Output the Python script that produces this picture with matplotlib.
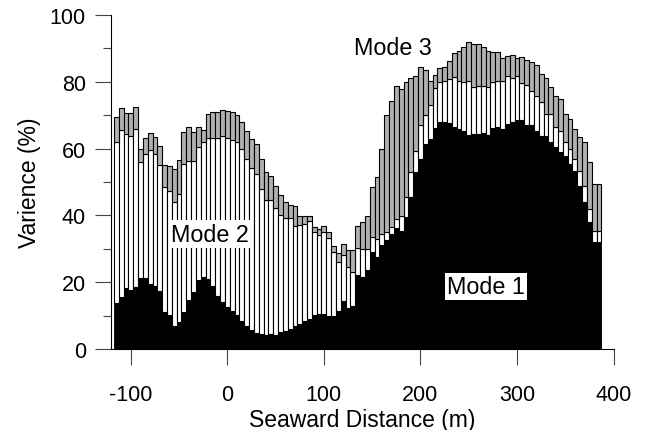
import matplotlib
matplotlib.use("Agg")
import matplotlib.pyplot as plt
import numpy as np

plt.rcParams['font.family'] = ['Liberation Sans', 'DejaVu Sans']
plt.rcParams['axes.unicode_minus'] = False

# Seaward distance of each bar (m)
distance = list(range(-115, 390, 5))

# Variance explained by mode 1 (%)
mode1 = [13.8, 15.5, 18.2, 17.7, 18.5, 21.1, 21.2, 19.5, 18.8, 17.5,
         11.2, 10.2, 6.8, 8.0, 11.2, 14.8, 17.0, 20.6, 21.5, 20.8,
         19.0, 16.0, 14.0, 12.5, 11.5, 10.2, 8.5, 6.8, 5.8, 4.8,
         4.5, 4.3, 4.5, 4.3, 5.0, 5.3, 6.0, 7.0, 7.5, 8.5,
         9.0, 10.2, 10.5, 10.5, 9.8, 10.0, 11.5, 14.5, 12.3, 13.0,
         22.0, 21.5, 23.5, 29.0, 27.5, 31.0, 32.7, 34.5, 36.1, 35.4,
         39.4, 45.4, 52.9, 56.9, 61.4, 62.9, 66.1, 68.1, 68.1, 67.7,
         66.4, 65.9, 65.4, 64.1, 64.4, 64.4, 64.7, 64.1, 66.1, 66.4,
         65.9, 67.4, 67.9, 68.4, 68.4, 67.1, 67.0, 65.4, 63.9, 63.7,
         61.9, 60.4, 58.9, 57.9, 55.4, 53.4, 48.9, 43.9, 37.9, 31.9,
         31.9]

# Cumulative variance of modes 1 + 2 (%)
mode12 = [61.9, 65.5, 64.5, 63.7, 65.9, 55.9, 58.4, 59.7, 58.4, 55.1,
          48.4, 47.4, 44.1, 46.4, 55.4, 56.4, 56.4, 60.5, 62.0, 63.1,
          63.2, 63.1, 63.7, 63.1, 62.7, 62.1, 60.0, 56.9, 54.1, 52.4,
          48.0, 44.7, 44.7, 42.1, 40.1, 39.1, 39.1, 36.9, 37.1, 37.4,
          38.4, 35.1, 34.1, 35.1, 33.1, 29.0, 26.1, 28.1, 24.4, 23.1,
          30.1, 29.9, 29.9, 33.4, 32.9, 34.4, 35.1, 36.4, 38.9, 39.7,
          45.4, 52.9, 59.4, 67.1, 70.1, 73.0, 78.0, 79.8, 80.3, 80.8,
          81.3, 80.3, 80.0, 80.3, 78.3, 78.6, 78.8, 78.3, 79.8, 80.3,
          80.3, 81.8, 81.0, 81.8, 79.6, 79.0, 77.3, 75.8, 73.9, 70.3,
          70.3, 66.4, 65.4, 61.9, 59.9, 56.9, 53.4, 48.9, 41.9, 35.4,
          35.4]

# Cumulative variance of modes 1 + 2 + 3 (%)
total = [69.5, 72.0, 70.6, 70.6, 72.4, 59.9, 63.1, 64.7, 63.4, 60.7,
         55.1, 54.9, 53.9, 56.7, 65.1, 66.4, 64.9, 66.4, 65.6, 70.3,
         71.0, 70.9, 71.4, 71.2, 70.9, 70.1, 68.1, 65.4, 63.0, 61.4,
         56.8, 53.1, 51.8, 48.9, 46.0, 43.9, 43.2, 42.9, 39.9, 39.8,
         39.9, 36.6, 35.8, 36.7, 34.9, 30.9, 28.7, 31.4, 29.7, 29.7,
         36.9, 38.1, 39.9, 48.4, 51.4, 59.9, 69.9, 74.2, 78.8, 77.7,
         79.8, 81.0, 81.6, 84.3, 83.6, 80.3, 82.0, 84.0, 84.3, 86.1,
         88.6, 89.3, 90.3, 91.8, 91.3, 91.3, 90.5, 89.3, 89.0, 88.8,
         87.0, 87.8, 88.0, 87.0, 87.3, 86.6, 86.0, 85.0, 82.3, 81.0,
         78.3, 75.8, 74.8, 70.3, 68.7, 65.9, 63.4, 61.9, 55.9, 49.4,
         49.4]

x = np.array(distance)
m1 = np.array(mode1)
m12 = np.array(mode12)
tot = np.array(total)

fig = plt.figure(figsize=(6.52, 4.31), dpi=100)
ax = fig.add_axes([0.171, 0.188, 0.770, 0.775])

# stacked bars: mode 1 (black), mode 2 (white), mode 3 (grey)
w = 5
ax.bar(x, m1, width=w, color='black', edgecolor='black', linewidth=0.6)
ax.bar(x, m12 - m1, bottom=m1, width=w, color='white', edgecolor='black', linewidth=0.8)
ax.bar(x, tot - m12, bottom=m12, width=w, color='#b0b0b0', edgecolor='black', linewidth=0.8)

ax.set_xlim(-120, 400)
ax.set_ylim(0, 100)
ax.set_xticks([-100, 0, 100, 200, 300, 400])
ax.set_yticks([0, 20, 40, 60, 80, 100])
ax.set_yticks(range(10, 100, 20), minor=True)
ax.tick_params(axis='both', which='major', length=11.5, width=0.8, labelsize=15.5, color='#444444')
ax.tick_params(axis='x', which='major', pad=13.5)
ax.tick_params(axis='y', which='major', pad=7)
ax.tick_params(axis='y', which='minor', length=6, width=0.8, color='#444444')
for s in ['top', 'right']:
    ax.spines[s].set_visible(False)
ax.spines['left'].set_linewidth(0.8)
ax.spines['bottom'].set_linewidth(0.8)

ax.set_xlabel("Seaward Distance (m)", fontsize=16.5, labelpad=2.5)
ax.set_ylabel("Varience (%)", fontsize=16.5, labelpad=6)

box = dict(facecolor='white', edgecolor='none', pad=1.5)
ax.text(-18.5, 34.4, "Mode 2", fontsize=16.8, ha='center', va='center', bbox=box)
ax.text(268, 18.7, "Mode 1", fontsize=16.8, ha='center', va='center', bbox=box)
ax.text(171, 90.4, "Mode 3", fontsize=16.8, ha='center', va='center')

fig.savefig("out.png", dpi=100)
